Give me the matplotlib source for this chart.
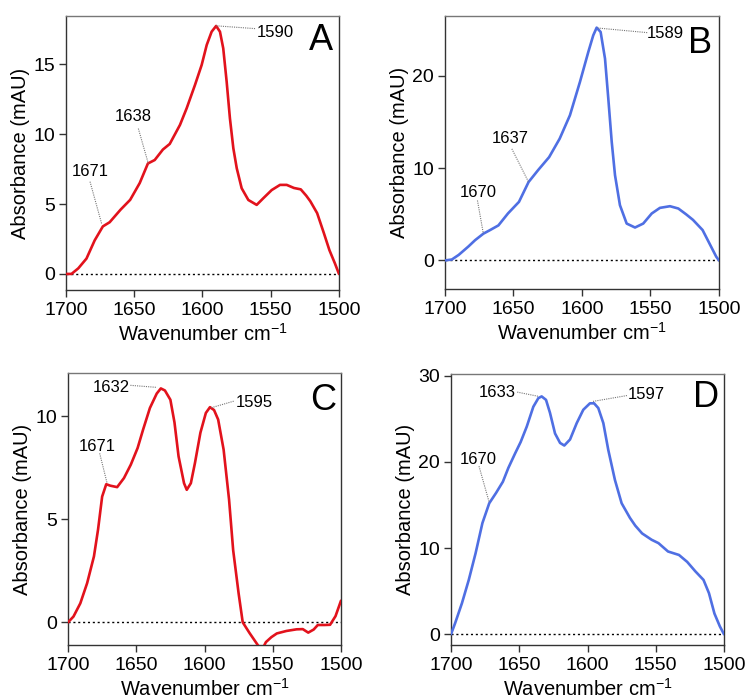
import matplotlib
matplotlib.use("Agg")
import matplotlib.pyplot as plt

plt.rcParams['font.family'] = ['Liberation Sans', 'DejaVu Sans']

RED = '#e2121c'
BLUE = '#4f6fe3'

# ---------------- data ----------------
a_x = [1700, 1696, 1691, 1685, 1679, 1673, 1668, 1660, 1653, 1646, 1640, 1635, 1629, 1624,
       1616.5, 1611.6, 1605.5, 1600.6, 1596.9, 1593.3, 1590, 1587.2, 1584.8, 1582.3, 1579.9,
       1577.4, 1574.9, 1571.3, 1566.4, 1560.3, 1555.5, 1549.3, 1543.2, 1538.3, 1533, 1528,
       1524, 1521, 1516, 1511, 1507, 1503, 1500]
a_y = [0.0, 0.0, 0.4, 1.1, 2.4, 3.4, 3.7, 4.6, 5.3, 6.5, 7.9, 8.15, 8.9, 9.3,
       10.66, 11.85, 13.52, 14.95, 16.38, 17.33, 17.74, 17.33, 16.14, 13.76, 11.13,
       8.99, 7.56, 6.13, 5.29, 4.94, 5.41, 6.0, 6.37, 6.37, 6.15, 6.05,
       5.6, 5.2, 4.35, 2.9, 1.7, 0.76, 0.0]

b_x = [1700, 1695, 1690, 1683, 1678, 1672, 1667, 1661, 1654, 1646, 1639, 1632, 1624, 1616.3,
       1608.8, 1601.5, 1595.4, 1591.8, 1589.3, 1586.4, 1583.2, 1580.8, 1578.3, 1575.9, 1572.3,
       1567.4, 1561.3, 1555.3, 1549.1, 1543.1, 1535.8, 1529.7, 1524, 1519, 1512, 1507, 1502, 1500]
b_y = [0.0, 0.1, 0.6, 1.5, 2.2, 2.9, 3.3, 3.8, 5.1, 6.35, 8.5, 9.8, 11.2, 13.2,
       15.74, 19.35, 22.6, 24.4, 25.24, 24.77, 21.88, 17.55, 12.85, 9.24, 5.99,
       4.0, 3.57, 4.0, 5.09, 5.7, 5.88, 5.63, 5.0, 4.4, 3.3, 1.85, 0.4, 0.0]

c_x = [1700, 1696, 1691, 1686, 1681, 1678, 1675, 1672, 1669, 1664, 1659, 1654, 1649, 1645, 1640,
       1635, 1632, 1629, 1625, 1622, 1619, 1615, 1613, 1610, 1607, 1603, 1599, 1596, 1593, 1590,
       1586, 1582, 1579, 1575, 1572, 1567, 1561, 1558, 1555, 1551, 1547, 1540, 1532.5, 1528, 1524,
       1520, 1517, 1512, 1508, 1504, 1500]
c_y = [0.0, 0.28, 0.92, 1.9, 3.2, 4.5, 6.1, 6.7, 6.63, 6.56, 7.0, 7.65, 8.46, 9.35, 10.4,
       11.1, 11.35, 11.25, 10.8, 9.7, 8.05, 6.75, 6.43, 6.75, 7.73, 9.2, 10.16, 10.44, 10.3, 9.84,
       8.38, 5.95, 3.5, 1.4, 0.0, -0.52, -1.1, -1.35, -0.96, -0.72, -0.54, -0.42, -0.34, -0.33, -0.5,
       -0.35, -0.13, -0.13, -0.12, 0.3, 1.05]

d_x = [1700, 1697, 1692, 1687, 1682, 1677, 1672, 1667, 1662, 1658, 1653, 1649, 1644.5, 1639.7,
       1636, 1633.6, 1630.4, 1627.5, 1623.8, 1620.1, 1617, 1612.8, 1607.9, 1603.1, 1598.2, 1595.2,
       1592.1, 1588.4, 1584.8, 1579.9, 1575, 1568.9, 1565, 1560, 1553, 1548, 1541, 1533, 1527,
       1521, 1515, 1511, 1507, 1503, 1500]
d_y = [0.0, 1.28, 3.6, 6.3, 9.4, 12.9, 15.2, 16.4, 17.7, 19.3, 21.0, 22.3, 24.1, 26.4,
       27.4, 27.6, 27.2, 25.7, 23.3, 22.2, 21.9, 22.6, 24.5, 26.05, 26.8, 26.8,
       26.25, 24.5, 21.4, 17.9, 15.2, 13.5, 12.6, 11.7, 10.96, 10.57, 9.6, 9.2, 8.4,
       7.3, 6.3, 4.76, 2.4, 0.9, 0.0]

# annotation labels: (label, text x, text y, ha, line start, line end)
a_ann = [("1590", 1560, 17.3, 'left', (1561.5, 17.55), (1590, 17.75)),
         ("1638", 1650.7, 11.25, 'center', (1647, 10.4), (1639.7, 7.9)),
         ("1671", 1682.4, 7.3, 'center', (1682.4, 6.6), (1673.9, 3.6))]
b_ann = [("1589", 1552.4, 24.6, 'left', (1552.4, 24.7), (1588.5, 25.2)),
         ("1637", 1652.4, 13.2, 'center', (1651.2, 12.1), (1639, 8.5)),
         ("1670", 1675.6, 7.4, 'center', (1676.3, 6.5), (1672, 2.9))]
c_ann = [("1632", 1654.8, 11.38, 'right', (1654.3, 11.5), (1634.8, 11.4)),
         ("1595", 1577.4, 10.68, 'left', (1578.6, 10.73), (1595.7, 10.4)),
         ("1671", 1678.8, 8.54, 'center', (1676.8, 8.2), (1671.4, 6.76))]
d_ann = [("1633", 1652.7, 28.07, 'right', (1651.5, 28.1), (1635.7, 27.6)),
         ("1597", 1570.4, 27.8, 'left', (1571.1, 27.7), (1596.7, 27.0)),
         ("1670", 1680, 20.25, 'center', (1679.5, 19.5), (1672.2, 15.4))]

panels = [
    dict(x=a_x, y=a_y, c=RED, ylim=(-1.15, 18.45), yticks=[0, 5, 10, 15], ann=a_ann, letter='A',
         pos=[0.0886, 0.5857, 0.3664, 0.3914], lpos=(0.934, 0.909)),
    dict(x=b_x, y=b_y, c=BLUE, ylim=(-3.1, 26.5), yticks=[0, 10, 20], ann=b_ann, letter='B',
         pos=[0.5973, 0.5871, 0.3678, 0.3900], lpos=(0.93, 0.90)),
    dict(x=c_x, y=c_y, c=RED, ylim=(-1.1, 12.1), yticks=[0, 5, 10], ann=c_ann, letter='C',
         pos=[0.0913, 0.0786, 0.3664, 0.3886], lpos=(0.934, 0.90)),
    dict(x=d_x, y=d_y, c=BLUE, ylim=(-1.25, 30.2), yticks=[0, 10, 20, 30], ann=d_ann, letter='D',
         pos=[0.6054, 0.0786, 0.3664, 0.3871], lpos=(0.934, 0.915)),
]

fig = plt.figure(figsize=(7.45, 7.0), dpi=100)

for p in panels:
    ax = fig.add_axes(p['pos'])
    ax.axhline(0, color='black', lw=1.0, ls=(0, (1.5, 2.0)), zorder=1)
    ax.plot(p['x'], p['y'], color=p['c'], lw=1.9, zorder=3,
            solid_joinstyle='round', solid_capstyle='round')
    ax.set_xlim(1700, 1500)
    ax.set_ylim(*p['ylim'])
    ax.set_xticks([1700, 1650, 1600, 1550, 1500])
    ax.set_yticks(p['yticks'])
    ax.tick_params(direction='out', length=5, width=1, labelsize=14, color='#333333')
    ax.tick_params(axis='x', pad=3.5)
    ax.tick_params(axis='y', pad=3)
    for s in ax.spines.values():
        s.set_color('#333333')
        s.set_linewidth(1.0)
    ax.spines['top'].set_color('#777777')
    ax.set_xlabel('Wavenumber cm$^{\\mathregular{-1}}$', fontsize=14.5, labelpad=3)
    ax.set_ylabel('Absorbance (mAU)', fontsize=14.5, labelpad=2)
    for lab, tx, ty, ha, p0, p1 in p['ann']:
        ax.text(tx, ty, lab, ha=ha, va='center', fontsize=12, zorder=5)
        ax.plot([p0[0], p1[0]], [p0[1], p1[1]], color='#777777', lw=0.8, ls=(0, (1, 1)), zorder=4)
    ax.text(p['lpos'][0], p['lpos'][1], p['letter'], transform=ax.transAxes,
            ha='center', va='center', fontsize=26)

fig.savefig('out.png', dpi=100)
